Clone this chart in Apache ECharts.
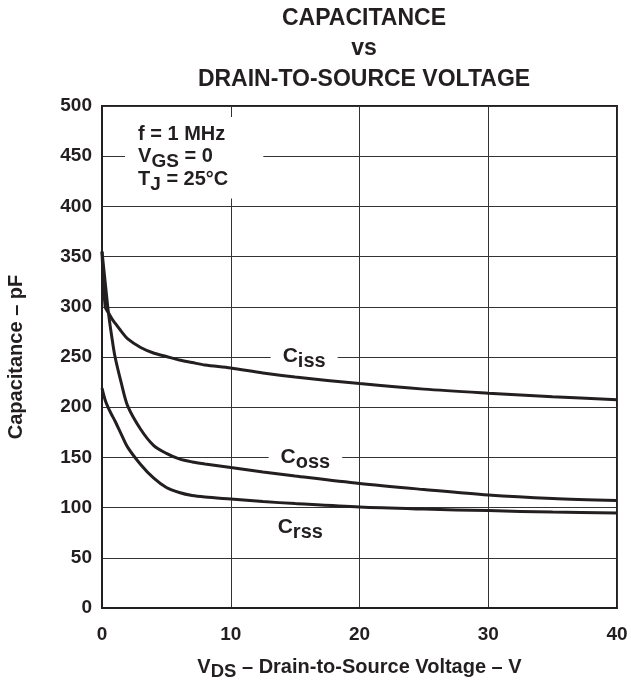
<!DOCTYPE html>
<html>
<head>
<meta charset="utf-8">
<script src="https://cdn.jsdelivr.net/npm/echarts@6/dist/echarts.min.js"></script>
<style>html,body{margin:0;padding:0;background:#fff}#c{width:631px;height:686px}</style>
</head>
<body>
<div id="c"></div>
<script>
// Drain-to-source voltage grid (V)
var vds = [0, 0.25, 0.5, 0.75, 1, 1.5, 2, 3, 4, 5, 6, 7, 8, 10, 12.5, 15, 20, 25, 30, 35, 40];
// Capacitances (pF)
var ciss = [355, 300, 294, 288.5, 284, 275.5, 268, 259.5, 254, 250.5, 247, 244.5, 242, 239, 234, 230, 223.5, 218, 214, 210.5, 207.5];
var coss = [355, 324, 294, 271, 251, 224, 201, 178, 162, 154, 148.5, 145.5, 143.5, 140, 135.5, 131.5, 124, 118, 112.5, 109, 107];
var crss = [219, 207, 199, 192.5, 186.5, 173, 160, 143, 129.5, 120, 115, 112, 110.5, 108.5, 106, 104, 100.5, 98.5, 97, 95.5, 94.5];
// Axis ticks
var xTicks = [0, 10, 20, 30, 40];
var yTicks = [0, 50, 100, 150, 200, 250, 300, 350, 400, 450, 500];
// Curve labels: [vds, pF, main, subscript]
var curveLabels = [[15.7, 250.5, 'C', 'iss'], [15.8, 150, 'C', 'oss'], [15.4, 80, 'C', 'rss']];
var conditionsAnchor = [1.79, 489];

var TXT = '#231f20';
var FONT = '"Liberation Sans", Arial, Helvetica, sans-serif';

function pairs(ys) { return vds.map(function (x, i) { return [x, ys[i]]; }); }

function curve(name, ys) {
  return {
    name: name, type: 'line', data: pairs(ys), showSymbol: false, symbol: 'none',
    smooth: 0.3, lineStyle: { color: TXT, width: 3 }, z: 5, silent: true
  };
}

function txt(size, extra) {
  var o = { fontFamily: FONT, fontWeight: 'bold', fontSize: size, color: TXT, textBorderWidth: 0, textShadowBlur: 0 };
  for (var k in extra) o[k] = extra[k];
  return o;
}

var chart = echarts.init(document.getElementById('c'), null, { renderer: 'canvas' });
chart.setOption({
  backgroundColor: '#fff',
  animation: false,
  textStyle: { fontFamily: FONT },
  title: {
    text: 'CAPACITANCE\nvs\nDRAIN-TO-SOURCE VOLTAGE',
    left: 359, top: -2, textAlign: 'center',
    textStyle: txt(23, { lineHeight: 30.5 })
  },
  grid: {
    left: 102, right: 14, top: 106, bottom: 78, show: true, borderColor: TXT, borderWidth: 2,
    backgroundColor: 'transparent', containLabel: false, outerBoundsMode: 'none'
  },
  xAxis: {
    type: 'value', min: xTicks[0], max: xTicks[xTicks.length - 1], interval: 10,
    axisLine: { show: true, lineStyle: { color: TXT, width: 2 } },
    axisTick: { show: false },
    splitLine: { show: true, lineStyle: { color: '#333', width: 1 } },
    axisLabel: txt(19, { margin: 17 }),
    name: '{n|V}{s|DS}{n| – Drain-to-Source Voltage – V}',
    nameLocation: 'middle', nameGap: 49,
    nameTextStyle: {
      rich: {
        n: txt(20, { lineHeight: 20 }),
        s: txt(18.5, { lineHeight: 20, padding: [10, 0, 0, 0] })
      }
    }
  },
  yAxis: {
    type: 'value', min: yTicks[0], max: yTicks[yTicks.length - 1], interval: 50,
    axisLine: { show: true, lineStyle: { color: TXT, width: 2 } },
    axisTick: { show: false },
    splitLine: { show: true, lineStyle: { color: '#333', width: 1 } },
    axisLabel: txt(19, { margin: 10 }),
    name: 'Capacitance – pF',
    nameLocation: 'middle', nameGap: 76,
    nameTextStyle: txt(20)
  },
  series: [
    curve('Ciss', ciss),
    curve('Coss', coss),
    curve('Crss', crss),
    {
      type: 'scatter', symbolSize: 0, silent: true, z: 10,
      itemStyle: { color: TXT, opacity: 1 },
      data: curveLabels.map(function (l) { return { value: [l[0], l[1]], main: l[2], sub: l[3] }; }),
      label: {
        show: true, position: 'inside', color: TXT, textBorderWidth: 0,
        backgroundColor: '#fff', padding: [0, 12, 0, 12],
        formatter: function (p) { return '{c|' + p.data.main + '}{s|' + p.data.sub + '}'; },
        rich: {
          c: txt(21, { lineHeight: 22 }),
          s: txt(20, { lineHeight: 22, padding: [10, 0, 0, 0] })
        }
      }
    },
    {
      type: 'scatter', symbolSize: 0, silent: true, z: 10,
      itemStyle: { color: TXT, opacity: 1 },
      data: [conditionsAnchor],
      label: {
        show: true, position: [0, 0], align: 'left', verticalAlign: 'top', color: TXT, textBorderWidth: 0,
        backgroundColor: '#fff', padding: [6, 35, 8, 13],
        formatter: '{t|f = 1 MHz}\n{t|V}{s|GS}{t| = 0}\n{t|T}{s|J}{t| = 25°C}',
        rich: {
          t: txt(20, { lineHeight: 22.5 }),
          s: txt(19, { lineHeight: 22.5, padding: [10, 0, 0, 0] })
        }
      }
    }
  ]
});
</script>
</body>
</html>
